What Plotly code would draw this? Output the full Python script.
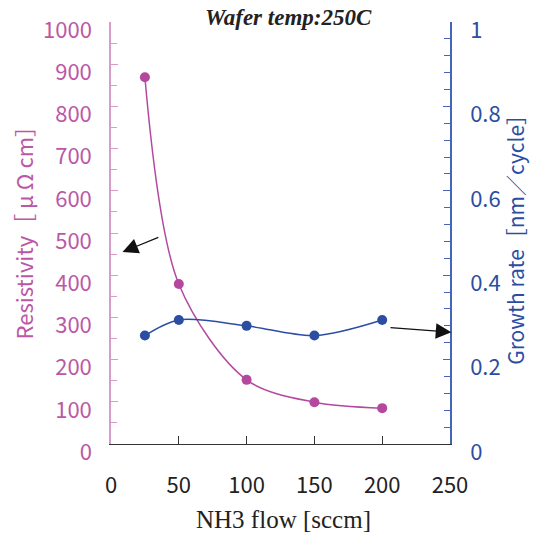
import plotly.graph_objects as go

nh3_flow = [25, 50, 100, 150, 200]
resistivity = [869, 379, 152, 99, 85]
growth_rate = [0.257, 0.294, 0.280, 0.257, 0.294]

x_ticks = [0, 50, 100, 150, 200, 250]
y1_ticks = list(range(0, 1001, 100))
y2_ticks = [0, 0.2, 0.4, 0.6, 0.8, 1]

PINK = "#b4489e"
PINK_TXT = "#bb58a6"
PINK_AX = "#d69ccb"
BLUE = "#2b4ea3"
BLUE_AX = "#4566b8"
FONT = "Noto Sans CJK JP"

fig = go.Figure()
fig.add_trace(go.Scatter(
    x=nh3_flow, y=resistivity, mode="lines+markers",
    line=dict(color=PINK, width=1.5, shape="spline", smoothing=0.9),
    marker=dict(color=PINK, size=10), yaxis="y", showlegend=False))
fig.add_trace(go.Scatter(
    x=nh3_flow, y=growth_rate, mode="lines+markers",
    line=dict(color=BLUE, width=1.5, shape="spline", smoothing=0.9),
    marker=dict(color=BLUE, size=10), yaxis="y2", showlegend=False))

fig.update_layout(
    width=533, height=534,
    margin=dict(l=111, r=83, t=22, b=90),
    plot_bgcolor="white", paper_bgcolor="white",
    xaxis=dict(range=[0, 250], tickvals=x_ticks, ticks="inside", ticklen=8,
               tickcolor="#333", showline=True, linecolor="#333", linewidth=1,
               showgrid=False, zeroline=False, ticklabelstandoff=22,
               tickfont=dict(family=FONT, size=22, color="#222")),
    yaxis=dict(range=[0, 1000], tickvals=y1_ticks, ticks="inside", ticklen=7,
               tickcolor=PINK_AX, showline=True, linecolor=PINK_AX, linewidth=1.5,
               showgrid=False, zeroline=False, ticklabelstandoff=13,
               ticklabelshift=8, ticklabeloverflow="allow",
               minor=dict(dtick=50, ticks="inside", ticklen=6, tickcolor=PINK_AX),
               tickfont=dict(family=FONT, size=22, color=PINK_TXT)),
    yaxis2=dict(range=[0, 1], tickvals=y2_ticks, overlaying="y", side="right",
                ticks="inside", ticklen=7, tickcolor=BLUE_AX, showline=True,
                linecolor=BLUE_AX, linewidth=1.5, showgrid=False, zeroline=False,
                ticklabelstandoff=14, ticklabelshift=8, ticklabeloverflow="allow",
                minor=dict(dtick=0.04, ticks="inside", ticklen=6, tickcolor=BLUE_AX),
                tickfont=dict(family=FONT, size=22, color=BLUE)),
)

fig.add_annotation(text="<b><i>Wafer temp:250C</i></b>", xref="paper", yref="paper",
                   x=0.524, y=1.01, xanchor="center", yanchor="middle", showarrow=False,
                   font=dict(family="Liberation Serif", size=23, color="#222"))
fig.add_annotation(text="NH3 flow [sccm]", xref="paper", yref="paper",
                   x=0.51, y=-0.18, xanchor="center", yanchor="middle", showarrow=False,
                   font=dict(family="Liberation Serif", size=25, color="#222"))
fig.add_annotation(text="Resistivity［ μ Ω cm］", xref="paper", yref="paper",
                   x=-0.26, y=0.515, xanchor="center", yanchor="middle",
                   textangle=-90, showarrow=False,
                   font=dict(family=FONT, size=22, color=PINK_TXT))
fig.add_annotation(text="Growth rate［nm／cycle］", xref="paper", yref="paper",
                   x=1.192, y=0.496, xanchor="center", yanchor="middle",
                   textangle=-90, showarrow=False, borderpad=0,
                   font=dict(family=FONT, size=21, color=BLUE))

# arrows
fig.add_annotation(x=8.5, y=455, ax=36, ay=491, xref="x", yref="y",
                   axref="x", ayref="y", text="", showarrow=True,
                   arrowhead=2, arrowsize=2.6, arrowwidth=1.2, arrowcolor="#111")
fig.add_annotation(x=251, y=265, ax=205, ay=276, xref="x", yref="y",
                   axref="x", ayref="y", text="", showarrow=True,
                   arrowhead=2, arrowsize=2.6, arrowwidth=1.2, arrowcolor="#111")

fig.write_html("out.html", config={"displayModeBar": False},
               post_script="document.body.style.margin='0px';")
